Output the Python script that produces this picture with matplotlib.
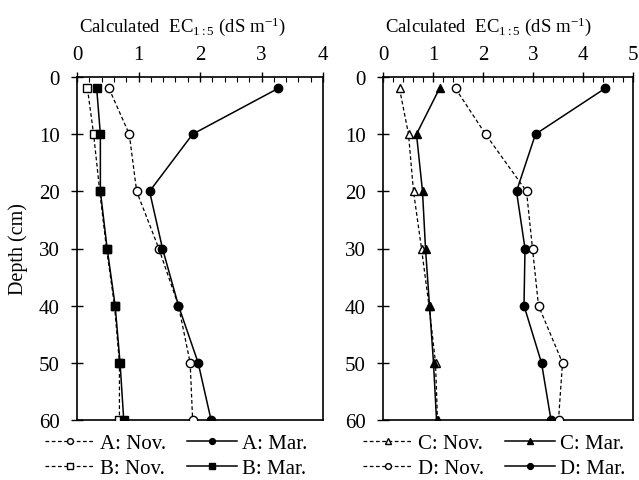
import numpy as np
import matplotlib.pyplot as plt
from matplotlib.ticker import MultipleLocator

plt.rcParams['font.family'] = ['Liberation Serif', 'DejaVu Serif']
plt.rcParams['mathtext.fontset'] = 'custom'
plt.rcParams['mathtext.rm'] = 'Liberation Serif'
plt.rcParams['mathtext.it'] = 'Liberation Serif'

# profundidades (cm)
depth = [2, 10, 20, 30, 40, 50, 60]

# sitios A y B
a_nov = [0.52, 0.85, 0.97, 1.33, 1.65, 1.84, 1.88]
a_mar = [3.27, 1.88, 1.18, 1.39, 1.65, 1.97, 2.18]
b_nov = [0.17, 0.27, 0.37, 0.48, 0.61, 0.69, 0.69]
b_mar = [0.32, 0.38, 0.38, 0.49, 0.62, 0.70, 0.76]

# sitios C y D
c_nov = [0.33, 0.51, 0.61, 0.77, 0.92, 1.05, 1.09]
c_mar = [1.13, 0.67, 0.79, 0.85, 0.93, 1.01, 1.07]
d_nov = [1.45, 2.05, 2.87, 2.99, 3.11, 3.59, 3.51]
d_mar = [4.44, 3.05, 2.67, 2.84, 2.82, 3.17, 3.36]

xlabel = r'Calculated  EC$_{\mathrm{1:5}}$ (dS m$^{\mathrm{-1}}$)'
fs_tick = 15
fs_leg = 15
fs_lab = 13.5

fig = plt.figure(figsize=(6.39, 4.81), dpi=100)
ax1 = fig.add_axes([77/639, 1 - 421/481, 246/639, 343/481])
ax2 = fig.add_axes([383/639, 1 - 421/481, 250/639, 343/481])

nov = dict(color='k', linestyle=(0, (3, 2)), linewidth=0.9, markersize=6,
           markerfacecolor='white', markeredgecolor='k', markeredgewidth=1.0)
mar = dict(color='k', linestyle='-', linewidth=1.1, markersize=6,
           markerfacecolor='k', markeredgecolor='k')

ax1.plot(a_nov, depth, marker='o', label='A: Nov.', zorder=3, **nov)
ax1.plot(b_nov, depth, marker='s', label='B: Nov.', zorder=3, **nov)
ax1.plot(a_mar, depth, marker='o', label='A: Mar.', zorder=4, **mar)
ax1.plot(b_mar, depth, marker='s', label='B: Mar.', zorder=4, **mar)

ax2.plot(c_nov, depth, marker='^', label='C: Nov.', zorder=3, **nov)
ax2.plot(d_nov, depth, marker='o', label='D: Nov.', zorder=5, **nov)
ax2.plot(c_mar, depth, marker='^', label='C: Mar.', zorder=4, **mar)
ax2.plot(d_mar, depth, marker='o', label='D: Mar.', zorder=4, **mar)

for ax, xmax, lx, legx in [(ax1, 4, 0.427, -0.13), (ax2, 5, 0.42, -0.08)]:
    ax.set_xlim(0, xmax)
    ax.set_ylim(60, 0)
    ax.xaxis.set_major_locator(MultipleLocator(1))
    ax.xaxis.set_minor_locator(MultipleLocator(0.2))
    ax.yaxis.set_major_locator(MultipleLocator(10))
    ax.xaxis.tick_top()
    ax.xaxis.set_label_position('top')
    ax.tick_params(axis='x', which='major', direction='inout', length=7, width=1,
                   labelsize=fs_tick, pad=6)
    ax.tick_params(axis='x', which='minor', direction='in', length=3.5, width=0.8)
    ax.tick_params(axis='y', which='major', direction='inout', length=8.5, width=1,
                   labelsize=fs_tick, pad=8)
    ax.set_xlabel(xlabel, fontsize=fs_lab, labelpad=10)
    ax.xaxis.label.set_x(lx)
    for s in ax.spines.values():
        s.set_linewidth(1.2)
    ax.legend(loc='upper left', bbox_to_anchor=(legx, -0.04), ncol=2,
              frameon=False, fontsize=fs_leg, handlelength=2.4, handletextpad=0.25,
              columnspacing=1.0, labelspacing=0.25, borderpad=0, borderaxespad=0,
              markerscale=0.7)

ax1.set_ylabel('Depth (cm)', fontsize=14.5)
ax1.yaxis.set_label_coords(-0.2, 0.5)

plt.savefig('out.png', dpi=100)
